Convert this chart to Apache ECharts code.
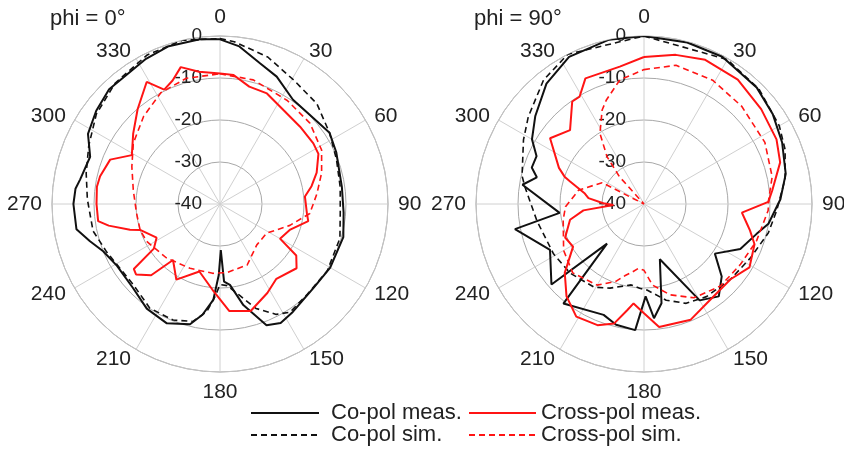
<!DOCTYPE html>
<html><head><meta charset="utf-8">
<script src="https://cdn.jsdelivr.net/npm/echarts@6/dist/echarts.min.js"></script>
<style>html,body{margin:0;padding:0;background:#fff}#c{width:844px;height:450px}</style>
</head><body><div id="c"></div>
<script>
// ---- Data (angle in degrees, value in dB) ----
const panelTitles = ['phi = 0°', 'phi = 90°'];
const seriesNames = ['Co-pol meas.', 'Co-pol sim.', 'Cross-pol meas.', 'Cross-pol sim.'];

// phi = 0°
const p0CoMeasAng = [0,7,16,24,35,45,57,66,82,94,105,120,132,146,153,159,167,173,177,179,181,184,189,194,204,215,226,239,248,254,260,270,276,280,290,298,307,316,333,342,353,360];
const p0CoMeasVal = [-0.8,-2.2,-5.2,-6.8,-9.7,-9.9,-8.9,-9.7,-10.7,-10.5,-9.6,-9.7,-10.1,-9,-8.2,-9.1,-15.3,-20.6,-21.5,-29,-23.1,-17.1,-13.3,-10.5,-8.9,-9.6,-11.2,-11.4,-10,-7.8,-5.3,-5.1,-5.4,-6.2,-7.1,-4.4,-3.1,-2,-1.2,-0.5,-0.5,-0.8];

const p0CoSimAng = [0,5,18,31,44,57,69,82,94,106,122,136,147,153,161,168,175,180,183,187,193,202,214,227,247,258,272,283,294,306,319,334,347,360];
const p0CoSimVal = [-0.6,-1.2,-3.2,-5.7,-6.8,-8.9,-10.3,-11.1,-11.3,-10.3,-9.9,-10.1,-9.3,-10.5,-13.7,-17.8,-20.5,-20.8,-18,-14.2,-11.3,-10.2,-10.1,-11.8,-10.7,-9.1,-8.4,-7.3,-5.8,-3.6,-1.9,-0.5,0,-0.6];

const p0XMeasAng = [0,6,14,23,34,46,57,63,72,79,85,96,101,110,120,124,130,143,152,164,175,185,197,210,220,224,230,233,236,242,252,254,259,262,270,278,283,292,299,309,319,329,334,339,344,351,360];
const p0XMeasVal = [-8.9,-9.1,-11.2,-11.4,-13,-13.5,-13.5,-13.7,-15.8,-17.8,-19.7,-19.2,-18.6,-22.2,-23.5,-18.1,-16.2,-17.7,-16,-13.5,-14.4,-19.5,-23.2,-19.2,-22.6,-16.4,-13.9,-14.3,-21,-22.9,-20,-17.7,-13,-10.7,-10.6,-10.4,-10.7,-11.8,-16,-13.4,-10.1,-6.1,-9.7,-8.5,-6.1,-8.1,-8.9];

const p0XSimAng = [0,15,33,48,62,73,84,96,107,122,138,156,174,186,205,225,243,252,264,279,293,305,319,332,345,360];
const p0XSimVal = [-9,-9.4,-10.6,-11.2,-12.6,-14.7,-16.8,-18.5,-22.6,-26.9,-26.9,-24.1,-23.6,-23.4,-23.1,-21.9,-20.4,-20,-20,-19.1,-17.2,-14.8,-12.3,-10,-9,-9];

// phi = 90°
const p90CoMeasAng = [0,15,28,44,55,66,78,88,99,105,115,125,133,141,150,164,170,175,179,184,193,200,219,223,229,244,259,264,279,284,288,294,300,309,321,333,348,360];
const p90CoMeasVal = [0,-0.2,-0.3,-1.4,-2.6,-4,-5.5,-7.5,-10,-12.3,-14.7,-19.4,-14.7,-11.7,-13.5,-26.3,-16,-12.7,-18,-9.9,-10.5,-11.9,-9.5,-27.1,-10.8,-15.1,-8.7,-19.8,-10.7,-13.7,-11.9,-12,-9.2,-6.7,-3.1,-0.7,0,0];

const p90CoSimAng = [0,30,45,60,69,80,93,103,117,131,146,157,167,178,183,189,202,211,227,241,261,278,283,298,307,321,333,360];
const p90CoSimVal = [0,-0.3,-1.3,-2.8,-4,-5.9,-8.4,-9.6,-11.6,-12.7,-13.4,-14.3,-16.5,-19.5,-19.9,-20.5,-18.4,-16.9,-15.9,-15.4,-14.2,-11.4,-10.2,-7.5,-5.5,-2,0,0];

const p90XMeasAng = [0,12,23,37,51,64,73,84,89,95,101,104,110,121,131,148,158,173,180,186,189,194,201,211,220,229,239,247,258,264,268,271,276,280,287,289,293,305,315,325,329,335,350,360];
const p90XMeasVal = [-5,-3.7,-2.7,-2.9,-4.1,-4.9,-6.1,-9.3,-10.4,-16.6,-15,-14,-12,-10.7,-12.7,-12,-10.3,-10.5,-14,-16.2,-14.4,-10.7,-9.1,-8.7,-11.3,-15,-20.3,-19.6,-22,-25.5,-32.7,-30.3,-26.7,-25.7,-21.6,-20,-18,-12.7,-15.1,-10.2,-10.2,-7,-6.8,-5];

const p90XSimAng = [0,13,29,45,63,78,88,93,108,122,137,152,164,174,180,185,190,195,200,210,226,240,259,268,282,297,308,318,322,328,336,340,349,360];
const p90XSimVal = [-8,-6.1,-6.3,-7.1,-7.7,-8.8,-10.3,-10.4,-11.8,-12.9,-13.3,-14.7,-17.5,-20.6,-24.2,-24.6,-23.5,-22.3,-20.4,-17.7,-16.4,-17.9,-20.4,-21.3,-24.1,-28.8,-40,-31.3,-25.7,-20.2,-15.5,-13.7,-9.9,-8];

const angleTickInterval = 30;
const radiusTickInterval = 10;
const radiusMin = -40, radiusMax = 0;

// ---- Build chart ----
const FONT = 'Liberation Sans, Arial, sans-serif';
const pair = (ang, val) => ang.map((a, i) => [val[i], a]);
const panels = [
  [pair(p0CoMeasAng, p0CoMeasVal), pair(p0CoSimAng, p0CoSimVal), pair(p0XMeasAng, p0XMeasVal), pair(p0XSimAng, p0XSimVal)],
  [pair(p90CoMeasAng, p90CoMeasVal), pair(p90CoSimAng, p90CoSimVal), pair(p90XMeasAng, p90XMeasVal), pair(p90XSimAng, p90XSimVal)]
];
const styles = [
  {color: '#111111', type: 'solid', width: 2},
  {color: '#111111', type: [6, 4], width: 1.6},
  {color: '#ff1414', type: 'solid', width: 2},
  {color: '#ff1414', type: [6, 4], width: 1.6}
];
const centers = [[220, 204], [644, 204]];

const upperLabels = [30, 60, 300, 330];
const labelFmt = v => {
  if (v === 360) return '';
  if (v === 0) return '{t|0}';
  if (v === 180) return '{b|180}';
  if (upperLabels.indexOf(v) >= 0) return '{u|' + v + '}';
  return String(v);
};
const labelBase = {fontSize: 21, color: '#222', fontFamily: FONT};

const polar = centers.map(c => ({center: c, radius: 168}));
const angleAxis = centers.map((c, i) => ({
  polarIndex: i, type: 'value', min: 0, max: 360, interval: angleTickInterval,
  startAngle: 90, clockwise: true,
  axisLine: {show: true, lineStyle: {color: '#c4c4c4', width: 1}},
  axisTick: {show: false},
  axisLabel: Object.assign({show: true, margin: 10, lineHeight: 2, formatter: labelFmt,
    rich: {
      t: Object.assign({lineHeight: 18}, labelBase),
      b: Object.assign({lineHeight: 20}, labelBase),
      u: Object.assign({lineHeight: 2, padding: [0, 0, -4, 0]}, labelBase)
    }}, labelBase),
  splitLine: {show: true, lineStyle: {color: '#d0d0d0', width: 1}}
}));
const radiusAxis = centers.map((c, i) => ({
  polarIndex: i, type: 'value', min: radiusMin, max: radiusMax, interval: radiusTickInterval,
  axisLine: {show: false}, axisTick: {show: false},
  axisLabel: {show: true, margin: 18, fontSize: 19, color: '#222', fontFamily: FONT},
  splitLine: {show: true, lineStyle: {color: '#a8a8a8', width: 1}}
}));

const series = [];
panels.forEach((p, pi) => {
  p.forEach((d, si) => {
    series.push({
      name: seriesNames[si], type: 'line', coordinateSystem: 'polar', polarIndex: pi,
      data: d, symbol: 'none', smooth: false, silent: true,
      lineStyle: styles[si], itemStyle: {color: styles[si].color}
    });
  });
});

const legendText = {fontSize: 22, color: '#222', fontFamily: FONT};
const option = {
  animation: false,
  backgroundColor: '#fff',
  title: [
    {text: panelTitles[0], left: 45, top: 3, textStyle: {fontSize: 22, fontWeight: 'normal', color: '#222', fontFamily: FONT}},
    {text: panelTitles[1], left: 469, top: 3, textStyle: {fontSize: 22, fontWeight: 'normal', color: '#222', fontFamily: FONT}}
  ],
  legend: [
    {data: [seriesNames[0], seriesNames[1]], orient: 'vertical', left: 250, top: 402, padding: 0,
     itemWidth: 68, itemHeight: 14, itemGap: 0,
     itemStyle: {color: 'transparent', borderWidth: 0, opacity: 0},
     textStyle: Object.assign({padding: [0, 0, 0, 7]}, legendText)},
    {data: [seriesNames[2], seriesNames[3]], orient: 'vertical', left: 468, top: 402, padding: 0,
     itemWidth: 67, itemHeight: 14, itemGap: 0,
     itemStyle: {color: 'transparent', borderWidth: 0, opacity: 0},
     textStyle: legendText}
  ],
  polar, angleAxis, radiusAxis, series
};
const chart = echarts.init(document.getElementById('c'), null, {renderer: 'canvas'});
chart.setOption(option);
</script>
</body></html>
